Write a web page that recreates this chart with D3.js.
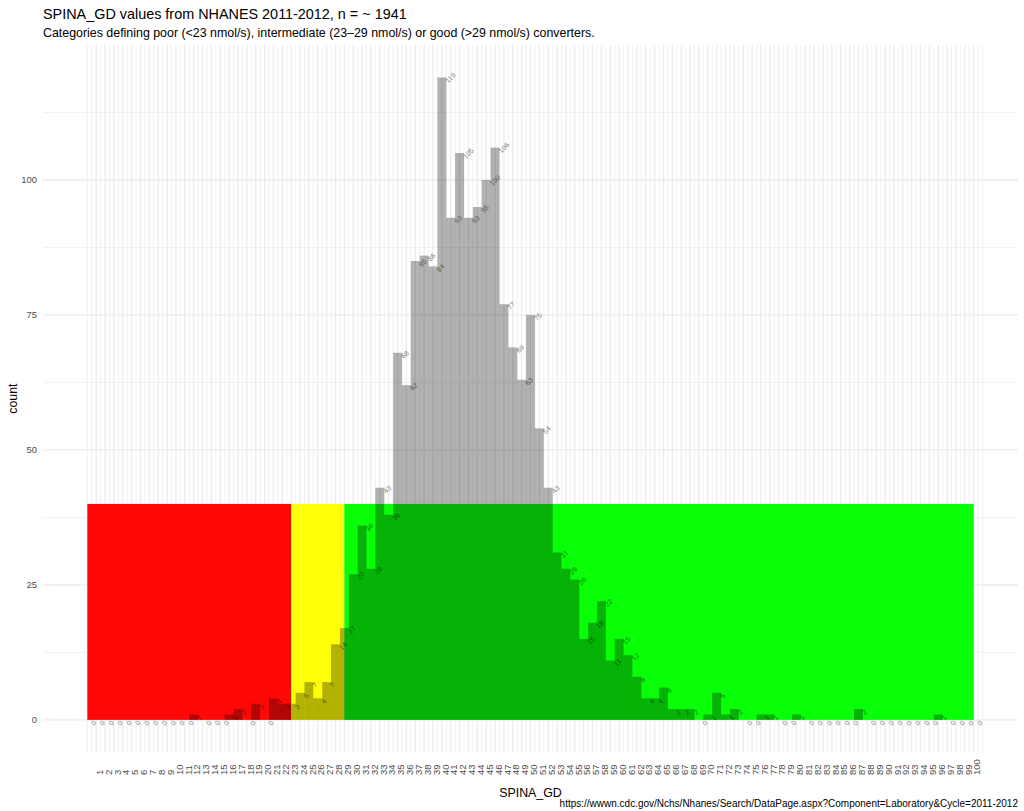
<!DOCTYPE html>
<html><head><meta charset="utf-8">
<script src="https://cdn.jsdelivr.net/npm/d3@7"></script>
<style>
body{margin:0;background:#fff}
text{font-family:"Liberation Sans",Arial,Helvetica,sans-serif}
</style>
</head><body>
<svg id="chart" width="1024" height="811"></svg>
<script>
// ---- data ----
const binCenters = d3.range(0, 101);           // SPINA_GD bins (width 1, centred on integers)
const counts = [
  0,0,0,0,0,0,0,0,0,0,0,0,          // 0-11
  1,0,0,0,1,2,0,3,0,4,              // 12-21
  3,3,5,7,4,7,14,17,27,36,          // 22-31
  28,43,38,68,62,85,86,84,119,93,   // 32-41
  105,93,95,100,106,77,69,63,75,54, // 42-51
  43,31,28,26,15,18,22,11,15,12,    // 52-61
  8,4,4,6,2,2,2,0,1,5,              // 62-71
  1,2,0,0,1,1,0,0,1,0,              // 72-81
  0,0,0,0,0,2,0,0,0,0,              // 82-91
  0,0,0,0,1,0,0,0,0                 // 92-100
];
const xTickValues = d3.range(1, 101);
const yTickValues = [0, 25, 50, 75, 100];
const zoneStart = [0, 23, 29];
const zoneEnd   = [23, 29, 100];
const zoneColor = ["#FF0000", "#FFFF00", "#00FF00"];
const zoneTop = 40;

const titleText = "SPINA_GD values from NHANES 2011-2012, n = ~ 1941";
const subtitleText = "Categories defining poor (<23 nmol/s), intermediate (23\u201329 nmol/s) or good (>29 nmol/s) converters.";
const captionText = "https://wwwn.cdc.gov/Nchs/Nhanes/Search/DataPage.aspx?Component=Laboratory&Cycle=2011-2012";

// ---- layout ----
const panel = {left: 43, right: 1018, top: 45.3, bottom: 752};
const svg = d3.select("#chart");

const xMin = 0, xMax = 100, xPad = (xMax - xMin) * 0.05;
const x = d3.scaleLinear().domain([xMin - xPad, xMax + xPad]).range([panel.left, panel.right]);
const yMax = d3.max(counts), yPad = yMax * 0.05;
const y = d3.scaleLinear().domain([-yPad, yMax + yPad]).range([panel.bottom, panel.top]);

const gridCol = "#ebebeb";
const g = svg.append("g");

// minor grid
const xMinor = [0].concat(d3.range(0.5, 101, 1)).concat([101]);
g.selectAll("line.xminor").data(xMinor).join("line")
  .attr("x1", d => x(d)).attr("x2", d => x(d))
  .attr("y1", panel.top).attr("y2", panel.bottom)
  .attr("stroke", gridCol).attr("stroke-width", 0.7);
const yMinor = [12.5, 37.5, 62.5, 87.5, 112.5];
g.selectAll("line.yminor").data(yMinor).join("line")
  .attr("x1", panel.left).attr("x2", panel.right)
  .attr("y1", d => y(d)).attr("y2", d => y(d))
  .attr("stroke", gridCol).attr("stroke-width", 0.7);
// major grid
g.selectAll("line.xmajor").data(xTickValues).join("line")
  .attr("x1", d => x(d)).attr("x2", d => x(d))
  .attr("y1", panel.top).attr("y2", panel.bottom)
  .attr("stroke", gridCol).attr("stroke-width", 1.3);
g.selectAll("line.ymajor").data(yTickValues).join("line")
  .attr("x1", panel.left).attr("x2", panel.right)
  .attr("y1", d => y(d)).attr("y2", d => y(d))
  .attr("stroke", gridCol).attr("stroke-width", 1.3);

// zones
g.selectAll("rect.zone").data(zoneStart).join("rect")
  .attr("x", (d, i) => x(d))
  .attr("width", (d, i) => x(zoneEnd[i]) - x(d))
  .attr("y", y(zoneTop))
  .attr("height", y(0) - y(zoneTop))
  .attr("fill", (d, i) => zoneColor[i])
  .attr("fill-opacity", 0.97);

// bars
g.selectAll("rect.bar").data(binCenters.filter((b, i) => counts[i] > 0)).join("rect")
  .attr("x", d => x(d - 0.5))
  .attr("width", d => x(d + 0.5) - x(d - 0.5))
  .attr("y", d => y(counts[d]))
  .attr("height", d => y(0) - y(counts[d]))
  .attr("fill", "#000").attr("fill-opacity", 0.3);

// bar labels
g.selectAll("text.lab").data(binCenters).join("text")
  .attr("transform", (d, i) => `translate(${x(d) + 6.4},${y(counts[i]) + 6.2}) rotate(-45)`)
  .attr("font-size", 7)
  .attr("fill", "#000").attr("fill-opacity", 0.55)
  .text((d, i) => counts[i]);

// y axis labels
svg.selectAll("text.ytick").data(yTickValues).join("text")
  .attr("x", 37).attr("y", d => y(d))
  .attr("dominant-baseline", "central")
  .attr("text-anchor", "end")
  .attr("font-size", 9.5).attr("fill", "#4d4d4d")
  .text(d => d);

// x axis labels
svg.selectAll("text.xtick").data(xTickValues).join("text")
  .attr("transform", d => `translate(${x(d) + 3.2},775) rotate(-90)`)
  .attr("dominant-baseline", "central")
  .attr("text-anchor", "start")
  .attr("font-size", 9.5).attr("fill", "#4d4d4d")
  .text(d => d);

// titles
svg.append("text").attr("x", panel.left).attr("y", 18.5).attr("font-size", 14.4).attr("fill", "#000").text(titleText);
svg.append("text").attr("x", panel.left).attr("y", 36.5).attr("font-size", 12.4).attr("fill", "#000").text(subtitleText);
svg.append("text").attr("x", (panel.left + panel.right) / 2).attr("y", 797).attr("text-anchor", "middle").attr("font-size", 12.4).attr("fill", "#000").text("SPINA_GD");
svg.append("text").attr("transform", `translate(13,${(panel.top + panel.bottom) / 2}) rotate(-90)`).attr("text-anchor", "middle").attr("dominant-baseline", "central").attr("font-size", 12.4).attr("fill", "#000").text("count");
svg.append("text").attr("x", panel.right).attr("y", 806.5).attr("text-anchor", "end").attr("font-size", 10).attr("fill", "#000").text(captionText);
</script>
</body></html>
